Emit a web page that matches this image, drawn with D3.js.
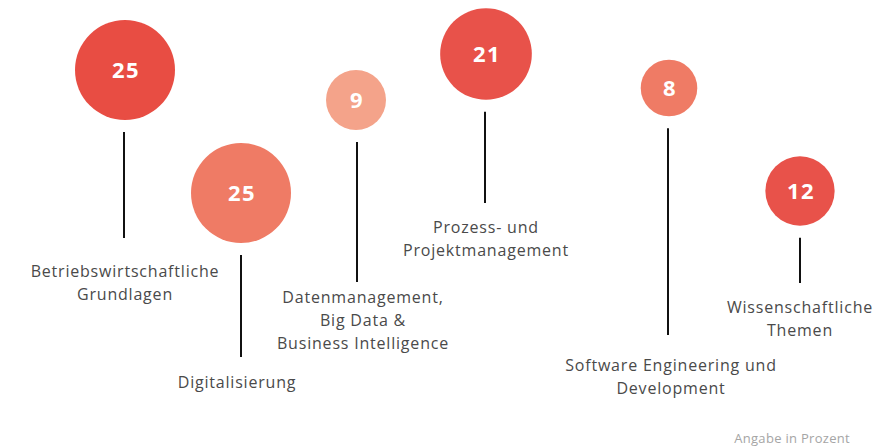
<!DOCTYPE html>
<html lang="de">
	<head>
		<meta charset="utf-8">
		<title>Studieninhalte</title>
		<style type="text/css">
			body { margin: 0; background: #fff; }
			svg { display: block; }
		</style>
	</head>
	<body>
		<script src="https://d3js.org/d3.v7.min.js"></script>
		<script>
			//Data
			var categories = [
				["Betriebswirtschaftliche", "Grundlagen"],
				["Digitalisierung"],
				["Datenmanagement,", "Big Data &", "Business Intelligence"],
				["Prozess- und", "Projektmanagement"],
				["Software Engineering und", "Development"],
				["Wissenschaftliche", "Themen"]
			];
			var values = [25, 25, 9, 21, 8, 12];
			var note = "Angabe in Prozent";

			//Layout (free placement of the bubbles)
			var slotX = [125, 241, 356, 486, 669, 800];
			var bubbleY = [70, 193, 100, 54, 88, 191];
			var stemX = [124, 241, 357, 485, 668, 800];
			var stemEnd = [238, 357, 282, 203, 335, 283];
			var labelX = [125, 237, 363, 486, 671, 800];
			var labelY = [277, 388, 303, 233, 371, 313];
			var tones = ["#e84d43", "#ef7b65", "#f4a38a", "#e8524a", "#ef7b65", "#e8524a"];

			//Width and height
			var w = 875;
			var h = 447;
			var lineHeight = 23;

			var rScale = d3.scaleSqrt()
							.domain([0, d3.max(values)])
							.range([0, 50]);

			var svg = d3.select("body")
						.append("svg")
						.attr("width", w)
						.attr("height", h);

			var items = svg.selectAll("g.item")
						   .data(values)
						   .enter()
						   .append("g")
						   .attr("class", "item");

			//Stems
			items.append("line")
				 .attr("x1", function(d, i) { return stemX[i]; })
				 .attr("x2", function(d, i) { return stemX[i]; })
				 .attr("y1", function(d, i) { return bubbleY[i] + rScale(d) + 12; })
				 .attr("y2", function(d, i) { return stemEnd[i]; })
				 .attr("stroke", "#111")
				 .attr("stroke-width", 2);

			//Bubbles
			items.append("circle")
				 .attr("cx", function(d, i) { return slotX[i]; })
				 .attr("cy", function(d, i) { return bubbleY[i]; })
				 .attr("r", function(d) { return rScale(d); })
				 .attr("fill", function(d, i) { return tones[i]; });

			//Values
			items.append("text")
				 .text(function(d) { return d; })
				 .attr("x", function(d, i) { return slotX[i] + 1; })
				 .attr("y", function(d, i) { return bubbleY[i] + 7.5; })
				 .attr("text-anchor", "middle")
				 .attr("font-family", "'Open Sans', sans-serif")
				 .attr("font-weight", "bold")
				 .attr("font-size", "22px")
				 .attr("letter-spacing", "1.5px")
				 .attr("fill", "#fff");

			//Labels
			var labels = items.append("text")
				 .attr("text-anchor", "middle")
				 .attr("font-family", "'Open Sans', sans-serif")
				 .attr("font-size", "16px")
				 .attr("letter-spacing", "0.8px")
				 .attr("fill", "#4a4a4a");

			labels.selectAll("tspan")
				  .data(function(d, i) {
				  	return categories[i].map(function(t, j) { return { t: t, i: i, j: j }; });
				  })
				  .enter()
				  .append("tspan")
				  .attr("x", function(d) { return labelX[d.i]; })
				  .attr("y", function(d) { return labelY[d.i] + d.j * lineHeight; })
				  .text(function(d) { return d.t; });

			//Footnote
			svg.append("text")
			   .text(note)
			   .attr("x", 850)
			   .attr("y", 443)
			   .attr("text-anchor", "end")
			   .attr("font-family", "'Open Sans', sans-serif")
			   .attr("font-size", "13px")
			   .attr("letter-spacing", "0.3px")
			   .attr("fill", "#a5a5a5");
		</script>
	</body>
</html>
